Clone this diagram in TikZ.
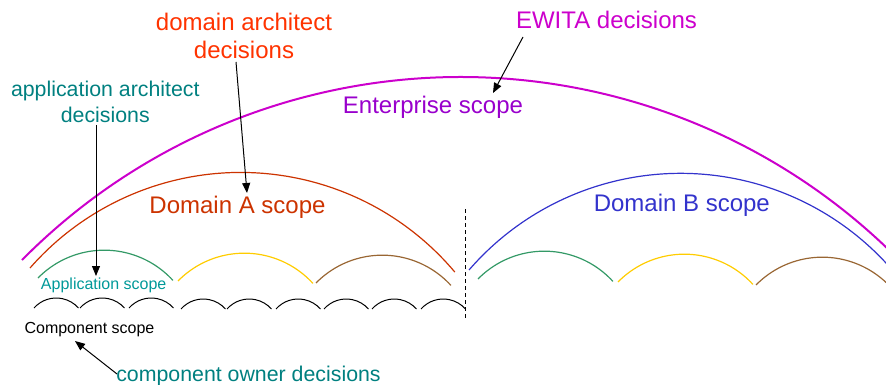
\documentclass[tikz,border=0pt]{standalone}
\usepackage{fontspec}
\setmainfont{Liberation Sans}
\usetikzlibrary{arrows.meta}
\definecolor{entc}{HTML}{CC00CC}
\definecolor{enttext}{HTML}{9900CC}
\definecolor{domarchc}{HTML}{FF3300}
\definecolor{domAc}{HTML}{CC3300}
\definecolor{domBc}{HTML}{3333CC}
\definecolor{tealc}{HTML}{008080}
\definecolor{apptext}{HTML}{009999}
\definecolor{greenc}{HTML}{339966}
\definecolor{yellowc}{HTML}{FFCC00}
\definecolor{brownc}{HTML}{996633}
\tikzset{
  lbl/.style={inner sep=0pt, anchor=base, font=\fontsize{18}{21.2}\selectfont, align=center},
  lblm/.style={inner sep=0pt, anchor=base, font=\fontsize{16}{19.5}\selectfont, align=center},
  lbls/.style={inner sep=0pt, anchor=base, font=\fontsize{12}{14}\selectfont},
  ptr/.style={draw=black, line width=0.75pt, -{Triangle[length=7.5pt,width=6pt]}},
  entarc/.style={draw=entc, line width=1.5pt},
  domarc/.style={line width=0.9pt},
  apparc/.style={line width=0.9pt},
  comparc/.style={draw=black, line width=0.75pt},
  divider/.style={draw=black, line width=0.75pt, dash pattern=on 3pt off 2.25pt}
}
\begin{document}
\begin{tikzpicture}[x=0.75pt, y=-0.75pt]
\useasboundingbox (0,0) rectangle (886,385);
\clip (0,0) rectangle (886,385);

% enterprise arc
\draw[entarc] (22,260) arc[start angle=224.7, end angle=316, radius=617];
% domain arcs
\draw[domarc, draw=domAc] (30,268) arc[start angle=221.2, end angle=319.9, radius=280];
\draw[domarc, draw=domBc] (469,270) arc[start angle=220.9, end angle=320, radius=280];

% application arcs
\draw[apparc, draw=greenc]  (38,278)  arc[start angle=224.5, end angle=317.5, radius=93];
\draw[apparc, draw=yellowc] (178,281) arc[start angle=224.5, end angle=317.5, radius=93];
\draw[apparc, draw=brownc]  (316,283) arc[start angle=224.5, end angle=317.5, radius=93];
\draw[apparc, draw=greenc]  (478,279) arc[start angle=224.5, end angle=317.5, radius=93];
\draw[apparc, draw=yellowc] (618,282) arc[start angle=224.5, end angle=317.5, radius=93];
\draw[apparc, draw=brownc]  (756,285) arc[start angle=224.5, end angle=317.5, radius=93];

% component arcs
\foreach \sx/\sy in {34/308, 80/308, 129/308, 181/309, 227/309, 276/309, 324/309, 372/309, 421/309}
  \draw[comparc] (\sx,\sy) arc[start angle=221.6, end angle=318.4, radius=29.75];

% divider
\coordinate (divtop) at (465,209);
\coordinate (divbot) at (465,320);
\draw[divider] (divtop) -- (divbot);

% labels (multi-line nodes: base = last line baseline)
\node[lbl, text=entc] (ewita) at (606.5,28.3) {EWITA decisions};
\node[lbl, text=domarchc] (domarch) at (244,59) {domain architect\\decisions};
\node[lblm, text=tealc] (apparch) at (105.3,122.7) {application architect\\decisions};
\node[lbl, text=enttext] (entscope) at (433,113.3) {Enterprise scope};
\node[lbl, text=domAc] (domA) at (237.5,213.3) {Domain A scope};
\node[lbl, text=domBc] (domB) at (681.8,211) {Domain B scope};
\node[lbls, text=apptext] (appscope) at (103.7,289.3) {Application scope};
\node[lbls, text=black] (compscope) at (89.5,333.3) {Component scope};
\node[lblm, text=tealc] (compowner) at (248.5,381) {component owner decisions};

% arrows
\coordinate (ewitaS) at (523,37);
\coordinate (ewitaT) at (493,93);
\coordinate (domarchS) at (236,62);
\coordinate (domarchT) at (247,193);
\coordinate (apparchS) at (96,125);
\coordinate (apparchT) at (96,276);
\coordinate (compS) at (117,374);
\coordinate (compT) at (75,341);
\draw[ptr] (ewitaS) -- (ewitaT);
\draw[ptr] (domarchS) -- (domarchT);
\draw[ptr] (apparchS) -- (apparchT);
\draw[ptr] (compS) -- (compT);
\end{tikzpicture}
\end{document}
